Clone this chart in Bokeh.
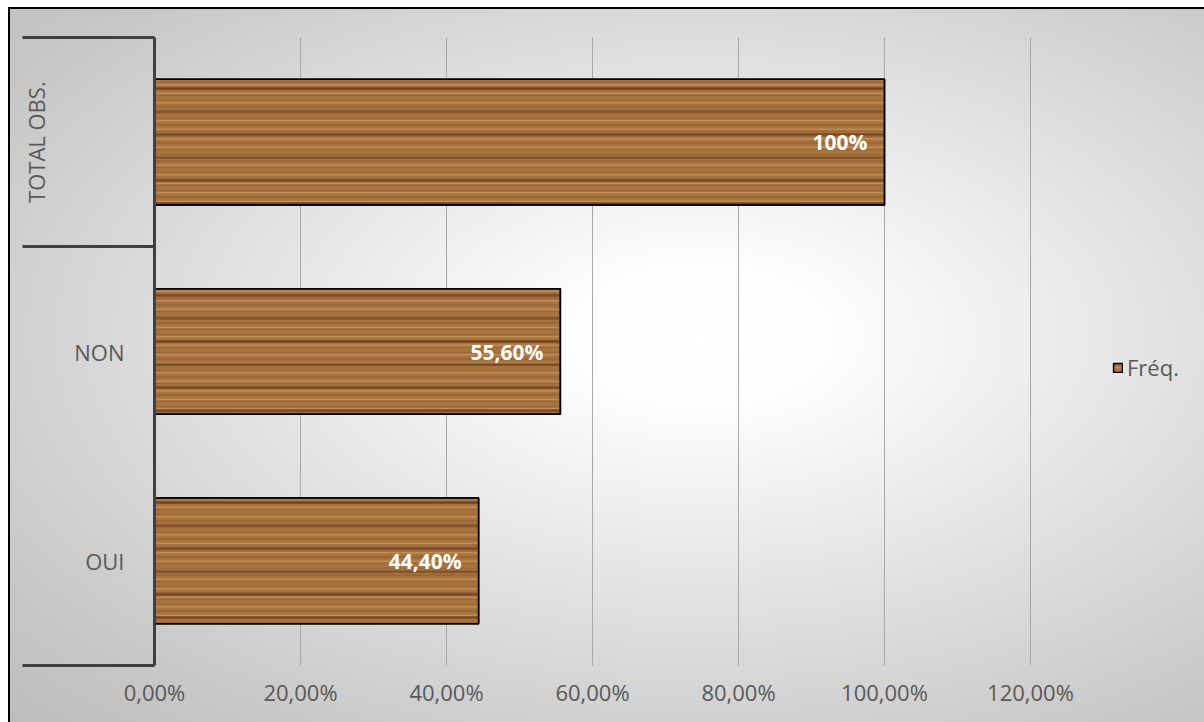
from bokeh.plotting import figure
from bokeh.models import (FactorRange, Range1d, LinearAxis, FixedTicker, ColumnDataSource,
                          Legend, LegendItem)
from bokeh.embed import file_html
from bokeh.resources import INLINE
from bokeh.core.properties import value

# ---- data ----
categories = ["OUI", "NON", "TOTAL OBS."]
freq_values = [0.444, 0.556, 1.0]
freq_labels = ["44,40%", "55,60%", "100%"]
series_name = "Fréq."
x_ticks = [0.0, 0.2, 0.4, 0.6, 0.8, 1.0, 1.2]
x_tick_labels = ["0,00%", "20,00%", "40,00%", "60,00%", "80,00%", "100,00%", "120,00%"]

FONT = "Open Sans"
TXT = "#595959"
FS = "22px"

# the drawing frame runs to the right edge so that the legend can sit inside it;
# the axis scale keeps 0..120 % over the first 876 px
FRAME_W = 1050
AXIS_W = 876
x_end = x_ticks[-1] * FRAME_W / AXIS_W

p = figure(width=1196, height=715, y_range=FactorRange(*categories),
           x_range=Range1d(x_ticks[0], x_end),
           output_backend="svg", toolbar_location=None, y_axis_location=None,
           min_border_left=146, min_border_right=0, min_border_top=30, min_border_bottom=57)
p.background_fill_color = None
p.border_fill_color = None
p.outline_line_color = None
p.styles = {
    "margin": "7px 0px 0px 8px",
    "background": "radial-gradient(ellipse farthest-corner at 58% 46%, #ffffff 0%, #fdfdfd 13%, #e4e4e4 45%, #c8c8c8 82%, #bdbdbd 100%)",
    "box-shadow": "inset 2px 2px 0 0 #000000",
}

src = ColumnDataSource(dict(cat=categories, val=freq_values, lab=freq_labels))

bars = p.hbar(y="cat", right="val", left=0, height=0.6, source=src,
              fill_color="#a8723f", line_color="#000000", line_width=1.5,
              hatch_pattern="horizontal_line", hatch_color="#d9aa6c",
              hatch_alpha=0.45, hatch_scale=9, hatch_weight=2)
p.hbar(y="cat", right="val", left=0, height=0.6, source=src,
       fill_color=None, line_color=None,
       hatch_pattern="horizontal_line", hatch_color="#6a3a16",
       hatch_alpha=0.35, hatch_scale=6, hatch_weight=1)
p.hbar(y="cat", right="val", left=0, height=0.6, source=src,
       fill_color=None, line_color="#000000", line_width=1.5,
       hatch_pattern="horizontal_line", hatch_color="#4a240c",
       hatch_alpha=0.5, hatch_scale=23, hatch_weight=2.5)

p.text(x="val", y="cat", text="lab", source=src, x_offset=-17,
       text_align="right", text_baseline="middle", text_color="#ffffff",
       text_font=value(FONT), text_font_style="bold", text_font_size="21px")

# ---- x axis ----
xt = FixedTicker(ticks=x_ticks)
p.xaxis.ticker = xt
p.xaxis.major_label_overrides = {t: l for t, l in zip(x_ticks, x_tick_labels)}
p.xaxis.axis_line_color = None
p.xaxis.major_tick_line_color = None
p.xaxis.minor_tick_line_color = None
p.xaxis.major_label_standoff = 5
p.xaxis.major_label_text_font = FONT
p.xaxis.major_label_text_font_size = FS
p.xaxis.major_label_text_color = TXT
p.xgrid.ticker = xt
p.xgrid.grid_line_color = "#a9a9a9"
p.xgrid.grid_line_width = 1
p.ygrid.visible = False

# ---- y axes (category labels + bracket lines), on the factor range's synthetic coords ----
n = len(categories)
centers = [i + 0.5 for i in range(n)]

ax1 = LinearAxis(ticker=FixedTicker(ticks=centers[:2], minor_ticks=[0, 2, 3]))
ax1.major_label_overrides = {c: categories[i] for i, c in enumerate(centers[:2])}
ax1.major_tick_line_color = None
ax1.major_tick_out = 0
ax1.major_tick_in = 0
ax1.minor_tick_out = 132
ax1.minor_tick_in = 0
ax1.minor_tick_line_width = 3
ax1.minor_tick_line_color = "#404040"
ax1.axis_line_width = 3
ax1.axis_line_color = "#404040"
ax1.major_label_standoff = -102
ax1.major_label_text_font = FONT
ax1.major_label_text_font_size = FS
ax1.major_label_text_color = TXT
p.add_layout(ax1, "left")

ax2 = LinearAxis(ticker=FixedTicker(ticks=[centers[2]], minor_ticks=[]))
ax2.major_label_overrides = {centers[2]: categories[2]}
ax2.major_label_orientation = "vertical"
ax2.axis_line_color = None
ax2.major_tick_line_color = None
ax2.minor_tick_line_color = None
ax2.major_tick_out = 0
ax2.major_tick_in = 0
ax2.major_label_standoff = 20
ax2.major_label_text_font = FONT
ax2.major_label_text_font_size = FS
ax2.major_label_text_color = TXT
p.add_layout(ax2, "left")

# ---- legend ----
legend = Legend(items=[LegendItem(label=series_name, renderers=[bars])],
                location=(958, 283), orientation="vertical")
legend.background_fill_alpha = 0
legend.border_line_color = None
legend.label_text_font = FONT
legend.label_text_font_size = FS
legend.label_text_color = TXT
legend.glyph_width = 11
legend.glyph_height = 11
legend.padding = 0
legend.margin = 0
legend.label_standoff = 4
p.add_layout(legend, "center")

open("out.html", "w").write(file_html(p, INLINE))
